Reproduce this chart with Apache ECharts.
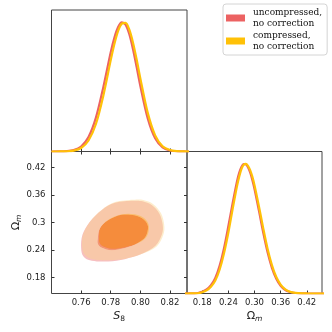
<!DOCTYPE html>
<html>
<head>
<meta charset="utf-8">
<script src="https://cdn.jsdelivr.net/npm/echarts@6/dist/echarts.min.js"></script>
<style>
html, body { margin: 0; padding: 0; background: #fff; }
#chart { width: 332px; height: 332px; }
</style>
</head>
<body>
<div id="chart"></div>
<script>
(function(){
    var mychart = echarts.init(document.getElementById('chart'));

    var uncompName = 'uncompressed,\nno correction';
    var compName = 'compressed,\nno correction';

    // 1D marginal of S8 (peak normalised to 1)
    var s8Grid = [0.74, 0.745, 0.75, 0.755, 0.76, 0.765, 0.77, 0.775, 0.78, 0.7825, 0.785, 0.7875,
        0.79, 0.7925, 0.795, 0.7975, 0.80, 0.805, 0.81, 0.815, 0.82, 0.825, 0.83, 0.835];
    var s8Uncomp = [0.0001, 0.0005, 0.0026, 0.011, 0.039, 0.112, 0.262, 0.498, 0.768, 0.882, 0.963, 0.999,
        0.981, 0.909, 0.794, 0.654, 0.507, 0.256, 0.102, 0.032, 0.008, 0.0016, 0.0002, 0];
    var s8Comp = [0, 0.0003, 0.0015, 0.007, 0.027, 0.085, 0.213, 0.432, 0.707, 0.834, 0.934, 0.990,
        0.995, 0.944, 0.844, 0.712, 0.566, 0.299, 0.125, 0.041, 0.011, 0.0022, 0.0004, 0];

    // 1D marginal of Omega_m
    var omGrid = [0.14, 0.15, 0.16, 0.17, 0.18, 0.19, 0.20, 0.21, 0.22, 0.23, 0.24,
        0.25, 0.26, 0.265, 0.27, 0.275, 0.28, 0.285, 0.29, 0.295, 0.30, 0.31, 0.32, 0.33, 0.34, 0.35,
        0.36, 0.37, 0.38, 0.39, 0.40, 0.41, 0.42, 0.43, 0.44, 0.45, 0.46];
    var omUncomp = [0.0001, 0.0004, 0.0012, 0.004, 0.013, 0.031, 0.064, 0.12, 0.215, 0.35, 0.52,
        0.70, 0.868, 0.932, 0.976, 0.998, 0.996, 0.974, 0.933, 0.876, 0.806, 0.641, 0.470, 0.318, 0.198, 0.114,
        0.060, 0.029, 0.013, 0.0055, 0.002, 0.0007, 0.0002, 0.0001, 0, 0, 0];
    var omComp = [0, 0.0002, 0.0006, 0.002, 0.01, 0.024, 0.052, 0.10, 0.185, 0.31, 0.47,
        0.655, 0.83, 0.903, 0.959, 0.992, 1.0, 0.985, 0.952, 0.901, 0.835, 0.675, 0.504, 0.346, 0.219, 0.127,
        0.069, 0.034, 0.0155, 0.0065, 0.0025, 0.0009, 0.0003, 0.0001, 0, 0, 0];

    var s8Ticks = [0.76, 0.78, 0.80, 0.82];
    var omTicks = [0.18, 0.24, 0.30, 0.36, 0.42];

    // 2D contours, points [S8, Omega_m]; outer = 95%, inner = 68%
    var uncompOuter = [[0.7951, 0.3473], [0.7829, 0.3430], [0.7738, 0.3270], [0.7659, 0.3015],
        [0.7609, 0.2731], [0.7600, 0.2441], [0.7616, 0.2258], [0.7672, 0.2164], [0.7784, 0.2149],
        [0.7895, 0.2200], [0.8003, 0.2305], [0.8102, 0.2491], [0.8146, 0.2742], [0.8151, 0.2950],
        [0.8129, 0.3190], [0.8079, 0.3375], [0.8015, 0.3462]];
    var uncompInner = [[0.7713, 0.2660], [0.7726, 0.2870], [0.7782, 0.3050], [0.7872, 0.3168],
        [0.7961, 0.3157], [0.8025, 0.3059], [0.8052, 0.2906], [0.8035, 0.2688], [0.7980, 0.2545],
        [0.7897, 0.2441], [0.7807, 0.2393], [0.7740, 0.2448], [0.7713, 0.2535]];
    var compOuter = [[0.7953, 0.3495], [0.7829, 0.3445], [0.7740, 0.3277], [0.7661, 0.3022],
        [0.7613, 0.2731], [0.7607, 0.2459], [0.7624, 0.2295], [0.7678, 0.2197], [0.7785, 0.2175],
        [0.7897, 0.2208], [0.8009, 0.2310], [0.8110, 0.2476], [0.8155, 0.2731], [0.8161, 0.2950],
        [0.8139, 0.3205], [0.8087, 0.3401], [0.8020, 0.3489]];
    var compInner = [[0.7721, 0.2666], [0.7730, 0.2878], [0.7784, 0.3059], [0.7874, 0.3179],
        [0.7964, 0.3179], [0.8031, 0.3081], [0.8058, 0.2913], [0.8043, 0.2694], [0.7986, 0.2550],
        [0.7897, 0.2459], [0.7809, 0.2426], [0.7748, 0.2481], [0.7725, 0.2557]];

    var red = '#ec6262';
    var yellow = '#ffc107';

    var zip = function(xs, ys) {
        return xs.map(function(x, i) { return [x, ys[i]]; });
    };

    // closed catmull-rom through the contour points
    var smoothClosed = function(pts) {
        var n = pts.length;
        var d = 'M' + pts[0][0].toFixed(2) + ' ' + pts[0][1].toFixed(2);
        for (var i = 0; i < n; i++) {
            var p0 = pts[(i - 1 + n) % n], p1 = pts[i], p2 = pts[(i + 1) % n], p3 = pts[(i + 2) % n];
            d += ' C' + (p1[0] + (p2[0] - p0[0]) / 6).toFixed(2) + ' ' + (p1[1] + (p2[1] - p0[1]) / 6).toFixed(2)
                + ' ' + (p2[0] - (p3[0] - p1[0]) / 6).toFixed(2) + ' ' + (p2[1] - (p3[1] - p1[1]) / 6).toFixed(2)
                + ' ' + p2[0].toFixed(2) + ' ' + p2[1].toFixed(2);
        }
        return d + ' Z ';
    };
    var area = function(pts) {
        var s = 0;
        for (var i = 0; i < pts.length; i++) {
            var a = pts[i], b = pts[(i + 1) % pts.length];
            s += a[0] * b[1] - b[0] * a[1];
        }
        return s;
    };

    var layers = [
        { outer: uncompOuter, hole: uncompInner, fill: '#f7bfc0' },
        { outer: uncompInner, fill: '#ee6565' },
        { outer: compOuter, hole: compInner, fill: 'rgba(250,213,138,0.43)' },
        { outer: compInner, fill: 'rgba(255,193,7,0.43)' }
    ];

    var renderContour = function(params, api) {
        var layer = layers[params.dataIndex];
        var o = layer.outer.map(function(p) { return api.coord(p); });
        var d = smoothClosed(o);
        if (layer.hole) {
            var h = layer.hole.map(function(p) { return api.coord(p); });
            if (area(o) * area(h) > 0) h.reverse();
            d += smoothClosed(h);
        }
        return {
            type: 'path',
            shape: { pathData: d },
            style: { fill: layer.fill }
        };
    };

    var tickFont = { fontFamily: 'DejaVu Sans', fontSize: 8.5, color: '#222' };
    var tickLine = { lineStyle: { color: '#333', width: 1 } };

    var frame = { show: true, borderColor: '#444', borderWidth: 1, backgroundColor: 'transparent' };

    var s8Axis = function(grid, pos, labels) {
        return {
            type: 'value', gridIndex: grid, position: pos,
            min: 0.74, max: 0.8315,
            axisLine: { show: false },
            splitLine: { show: false },
            axisTick: { show: true, inside: true, length: 3, customValues: s8Ticks, lineStyle: tickLine.lineStyle },
            axisLabel: { show: labels, customValues: s8Ticks, margin: 5,
                formatter: function(v) { return v.toFixed(2); },
                fontFamily: tickFont.fontFamily, fontSize: tickFont.fontSize, color: tickFont.color }
        };
    };
    var omAxisY = function(grid, pos, labels) {
        return {
            type: 'value', gridIndex: grid, position: pos,
            min: 0.145, max: 0.455,
            axisLine: { show: false },
            splitLine: { show: false },
            axisTick: { show: true, inside: true, length: 3, customValues: omTicks, lineStyle: tickLine.lineStyle },
            axisLabel: { show: labels, customValues: omTicks, margin: 6,
                fontFamily: tickFont.fontFamily, fontSize: tickFont.fontSize, color: tickFont.color }
        };
    };
    var densityAxis = function(grid) {
        return {
            type: 'value', gridIndex: grid, min: 0, max: 1.095, show: false,
            splitLine: { show: false }
        };
    };

    var nameRich = {
        it: { fontFamily: 'DejaVu Sans', fontStyle: 'italic', fontSize: 11, color: '#222', verticalAlign: 'middle', lineHeight: 14 },
        up: { fontFamily: 'DejaVu Sans', fontSize: 11, color: '#222', verticalAlign: 'middle', lineHeight: 14 },
        sub: { fontFamily: 'DejaVu Sans', fontSize: 7.5, color: '#222', verticalAlign: 'bottom', lineHeight: 14 },
        subit: { fontFamily: 'DejaVu Sans', fontStyle: 'italic', fontSize: 7.5, color: '#222', verticalAlign: 'bottom', lineHeight: 14 }
    };

    var xS8 = s8Axis(1, 'bottom', true);
    xS8.name = '{it|S}{sub|8}';
    xS8.nameLocation = 'middle';
    xS8.nameGap = 16;
    xS8.nameTextStyle = { rich: nameRich };

    var yOm = omAxisY(1, 'left', true);
    yOm.name = '{up|Ω}{subit|m}';
    yOm.nameLocation = 'middle';
    yOm.nameGap = 18;
    yOm.nameTextStyle = { rich: nameRich };

    var xOm = {
        type: 'value', gridIndex: 2, position: 'bottom',
        min: 0.145, max: 0.455,
        axisLine: { show: false },
        splitLine: { show: false },
        axisTick: { show: true, inside: true, length: 3, customValues: omTicks, lineStyle: tickLine.lineStyle },
        axisLabel: { show: true, customValues: omTicks, margin: 5,
            formatter: function(v) { return v.toFixed(2); },
            fontFamily: tickFont.fontFamily, fontSize: tickFont.fontSize, color: tickFont.color },
        name: '{up|Ω}{subit|m}',
        nameLocation: 'middle',
        nameGap: 16,
        nameTextStyle: { rich: nameRich }
    };

    var curve = function(name, color, xi, yi, xs, ys) {
        return {
            name: name, type: 'line', xAxisIndex: xi, yAxisIndex: yi,
            data: zip(xs, ys), smooth: 0.3, showSymbol: false,
            itemStyle: { color: color }, lineStyle: { color: color, width: 2.2 }
        };
    };

    var option = {
        animation: false,
        backgroundColor: '#fff',
        legend: {
            left: 223, top: 4,
            orient: 'vertical',
            icon: 'rect',
            itemWidth: 19, itemHeight: 7, itemGap: 1,
            padding: [3, 5, 3, 3],
            backgroundColor: '#fff',
            borderColor: '#d4d4d4', borderWidth: 1, borderRadius: 3,
            textStyle: { fontFamily: 'DejaVu Serif', fontSize: 9, lineHeight: 11, color: '#111', padding: [0, 0, 0, 3] },
            data: [
                { name: uncompName, itemStyle: { color: red } },
                { name: compName, itemStyle: { color: yellow } }
            ]
        },
        grid: [
            Object.assign({ left: 51.5, top: 10, width: 135.5, height: 141.5 }, frame),
            Object.assign({ left: 51.5, top: 151.5, width: 135.5, height: 142 }, frame),
            Object.assign({ left: 187, top: 151.5, width: 135, height: 142 }, frame)
        ],
        xAxis: [
            s8Axis(0, 'bottom', false),
            xS8,
            s8Axis(1, 'top', false),
            xOm
        ],
        yAxis: [
            densityAxis(0),
            yOm,
            omAxisY(1, 'right', false),
            densityAxis(2)
        ],
        series: [
            curve(uncompName, red, 0, 0, s8Grid, s8Uncomp),
            curve(compName, yellow, 0, 0, s8Grid, s8Comp),
            {
                type: 'custom', xAxisIndex: 1, yAxisIndex: 1,
                renderItem: renderContour,
                data: layers.map(function(l) { return l.outer[0]; }),
                silent: true
            },
            curve(uncompName, red, 3, 3, omGrid, omUncomp),
            curve(compName, yellow, 3, 3, omGrid, omComp)
        ]
    };

    mychart.setOption(option);
})();
</script>
</body>
</html>
